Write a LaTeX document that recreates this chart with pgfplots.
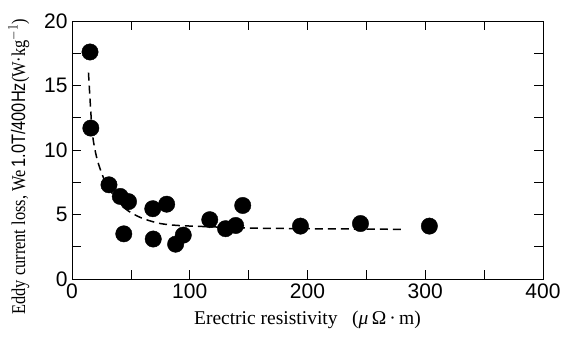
\documentclass[border=0pt]{standalone}
\usepackage{fontspec}
\setmainfont{Liberation Serif}
\setsansfont{Liberation Sans}
\usepackage{graphicx}
\usepackage{pgfplots}
\pgfplotsset{compat=1.18}
\begin{document}
\begin{tikzpicture}
\begin{axis}[
  scale only axis,
  width=471pt, height=258pt,
  xmin=0, xmax=400, ymin=0, ymax=20,
  xtick={0,100,200,300,400},
  minor xtick={50,150,250,350},
  ytick={0,5,10,15,20},
  minor ytick={2.5,7.5,12.5,17.5},
  tick align=inside,
  major tick length=9pt,
  minor tick length=9pt,
  axis line style={line width=0.8pt},
  every tick/.style={line width=0.6pt, black},
  tick label style={font=\fontsize{21}{24}\sffamily},
  /pgf/number format/assume math mode=true,
  xticklabel style={yshift=-1pt},
  yticklabel style={xshift=-1pt},
  xlabel={Erectric resistivity\ \ \ (\textit{μ}\,Ω\,·\,m)},
  ylabel={\scalebox{0.84}[1]{Eddy current loss, We\,{\sffamily 1.0T/400Hz}(W·kg$^{-1}$)}},
  label style={font=\fontsize{19.5}{22}\selectfont},
  xlabel style={yshift=-6pt},
  ylabel style={at={(ticklabel cs:0.435)}, yshift=8pt},
  clip=false,
]
\addplot[black, line width=1.5pt, dash pattern=on 8pt off 5pt, smooth] coordinates {
(14,16.0) (17,11.6) (20,9.8) (24,8.5) (30,7.2) (38,6.2) (46,5.4) (55,4.9) (63,4.6) (75,4.3) (90,4.15) (117,4.05) (150,3.95) (200,3.9) (280,3.85)
};
\addplot[only marks, mark=*, mark size=8.2pt, black] coordinates {
(15.3,17.6) (16,11.7) (31.4,7.3) (41,6.4) (48,6.0) (44,3.5) (68.6,5.45) (80.4,5.8)
(69,3.1) (88,2.7) (94.5,3.4) (117,4.6) (130.4,3.9) (139,4.15) (145,5.7)
(194,4.1) (245,4.3) (303.5,4.1)
};
\coordinate (O) at (rel axis cs:0,0);
\end{axis}
\pgfresetboundingbox
\path[use as bounding box] ([shift={(-72pt,-62pt)}]O) rectangle ([shift={(489pt,279pt)}]O);
\end{tikzpicture}
\end{document}
